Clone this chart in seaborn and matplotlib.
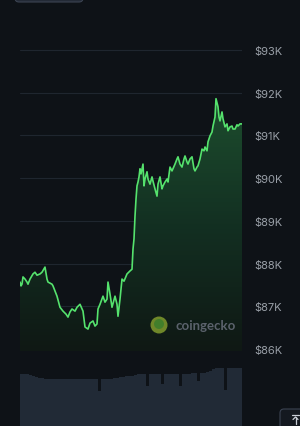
import matplotlib
matplotlib.use("Agg")
import numpy as np
import pandas as pd
import matplotlib.pyplot as plt
import seaborn as sns
from matplotlib.patches import FancyBboxPatch, Circle, Polygon
from matplotlib.colors import LinearSegmentedColormap

# ---- data (time step index, price in USD) ----
t = [0, 1, 2, 3, 5, 7, 8, 10, 13, 15, 17, 20, 22, 25, 27, 28, 32, 33, 37, 40,
     43, 46, 48, 50, 52, 55, 57, 60, 63, 65, 68, 70, 73, 75, 77, 78, 80, 83, 85, 87,
     88, 90, 92, 95, 97, 98, 100, 102, 104, 107, 110, 112, 113, 114, 115, 116, 117, 118, 119, 120,
     121, 123, 124, 125, 127, 128, 130, 132, 133, 135, 137, 138, 140, 142, 143, 145, 147, 148, 150, 152,
     155, 157, 158, 160, 162, 164, 165, 167, 168, 170, 172, 174, 175, 177, 178, 180, 182, 184, 185, 187,
     188, 190, 192, 193, 195, 196, 198, 199, 200, 202, 203, 205, 207, 208, 210, 212, 213, 215, 217, 218,
     220, 222]
price = [87570, 87480, 87520, 87690, 87640, 87570, 87520, 87640, 87760, 87800,
         87730, 87760, 87800, 87920, 87640, 87570, 87520, 87480, 87240, 86980,
         86890, 86820, 86750, 86870, 86940, 86890, 86980, 87050, 86890, 86520,
         86470, 86610, 86660, 86540, 86590, 86940, 87050, 87240, 87100, 87170,
         87570, 87290, 86980, 87240, 87050, 86770, 87170, 87640, 87590, 87760,
         87830, 87870, 88340, 88580, 89110, 89510, 89820, 89910, 90030, 90220,
         90100, 90330, 89820, 89980, 90150, 89980, 89860, 90030, 89930, 89750,
         89580, 89860, 90030, 89750, 89820, 89910, 89980, 89910, 90260, 90170,
         90330, 90450, 90500, 90330, 90260, 90450, 90520, 90380, 90330, 90450,
         90500, 90220, 90170, 90260, 90290, 90450, 90680, 90640, 90730, 90640,
         90850, 90990, 91080, 91220, 91430, 91860, 91670, 91430, 91340, 91550,
         91390, 91200, 91270, 91110, 91200, 91220, 91150, 91150, 91250, 91220,
         91270, 91270]

vol_t = list(range(0, 222, 3))
volume = [52, 52, 52, 51, 50, 49, 48, 48,
          47, 47, 47, 47, 47, 47, 47, 47, 47, 47, 47, 47, 47, 47, 47, 47, 47, 47,
          35, 47, 47, 47, 47, 48, 48, 49, 49, 50, 50, 50,
          51, 52, 52, 52, 40, 52, 52, 52, 52, 42, 52, 52, 52, 52, 52, 40,
          52, 52, 52, 53, 53, 45, 53, 53, 54, 55, 57, 58, 58, 58, 36,
          58, 58, 58, 58, 58]

yticks = [86000, 87000, 88000, 89000, 90000, 91000, 92000, 93000]
ytick_labels = ["$86K", "$87K", "$88K", "$89K", "$90K", "$91K", "$92K", "$93K"]

# ---- styling ----
BG = "#0e1217"
GRID = "#1f262f"
LINE = "#55e26d"
LABEL = "#9aa0a8"

sns.set_theme(style="dark", rc={"axes.facecolor": BG, "figure.facecolor": BG})
plt.rcParams["font.family"] = ["Inter", "DejaVu Sans"]

W, H = 300, 427
fig = plt.figure(figsize=(W / 100, H / 100), dpi=100, facecolor=BG)

# price axes: x px 20..242, y px 30..360
ax = fig.add_axes([20 / W, (H - 360) / H, 222 / W, 330 / H])
ax.set_facecolor(BG)
ymin, ymax = 85770, 93490
ax.set_ylim(ymin, ymax)
ax.set_xlim(0, 222)

df = pd.DataFrame({"t": t, "price": price})

# gradient fill under the line
fill_base = 85950
verts = [(t[0], fill_base)] + list(zip(t, price)) + [(t[-1], fill_base)]
poly = Polygon(verts, closed=True, facecolor="none", edgecolor="none")
ax.add_patch(poly)
cmap = LinearSegmentedColormap.from_list("g", ["#0f1814", "#133022", "#1d4e2e"])
grad = np.linspace(0, 1, 256).reshape(-1, 1)
im = ax.imshow(grad, extent=[0, 222, fill_base, 91900], origin="lower", cmap=cmap,
               aspect="auto", zorder=1)
im.set_clip_path(poly)

sns.lineplot(data=df, x="t", y="price", ax=ax, color=LINE, linewidth=1.2, zorder=3)

ax.set_yticks(yticks)
ax.set_yticklabels(ytick_labels)
ax.yaxis.tick_right()
ax.tick_params(axis="y", length=0, pad=9, labelsize=8, labelcolor=LABEL)
ax.set_xticks([])
ax.set_xlabel("")
ax.set_ylabel("")
ax.grid(axis="y", color=GRID, linewidth=0.8)
ax.grid(axis="x", visible=False)
for s in ax.spines.values():
    s.set_visible(False)

# overlay for watermark and buttons (pixel coordinates)
ax_wm = fig.add_axes([0, 0, 1, 1], facecolor="none")
ax_wm.set_xlim(0, W)
ax_wm.set_ylim(H, 0)
ax_wm.axis("off")
ax_wm.add_patch(Circle((159, 326), 8.5, facecolor="#7a942c", edgecolor="none", alpha=0.9))
ax_wm.add_patch(Circle((159, 325), 5.0, facecolor="#3e7d2c", edgecolor="none", alpha=0.9))
ax_wm.text(175, 326, "coingecko", color="#5b626c", fontsize=9.5, fontweight="bold",
           va="center", ha="left", family=["Lato", "DejaVu Sans"])

# top-left button
ax_wm.add_patch(FancyBboxPatch((15, -8), 68, 11, boxstyle="round,pad=0,rounding_size=4",
                               facecolor="#232a36", edgecolor="#3b4352", linewidth=0.8))
# bottom-right button
ax_wm.add_patch(FancyBboxPatch((280, 410), 30, 25, boxstyle="round,pad=0,rounding_size=4",
                               facecolor="#141920", edgecolor="#3b4352", linewidth=0.8))
ax_wm.plot([292, 299], [416, 416], color="#c9ced6", linewidth=0.9)
ax_wm.plot([295.5, 295.5], [418, 425], color="#c9ced6", linewidth=0.9)
ax_wm.plot([293, 295.5, 298], [420.5, 418, 420.5], color="#c9ced6", linewidth=0.9)

# volume axes: x px 20..242, y px 365..427
axv = fig.add_axes([20 / W, 0, 222 / W, (H - 365) / H])
axv.set_facecolor(BG)
axv.bar(vol_t, volume, width=3, align="edge", color="#212a36", edgecolor="none")
axv.set_xlim(0, 222)
axv.set_ylim(0, 62)
axv.axis("off")

fig.savefig("out.png", dpi=100, facecolor=BG)
